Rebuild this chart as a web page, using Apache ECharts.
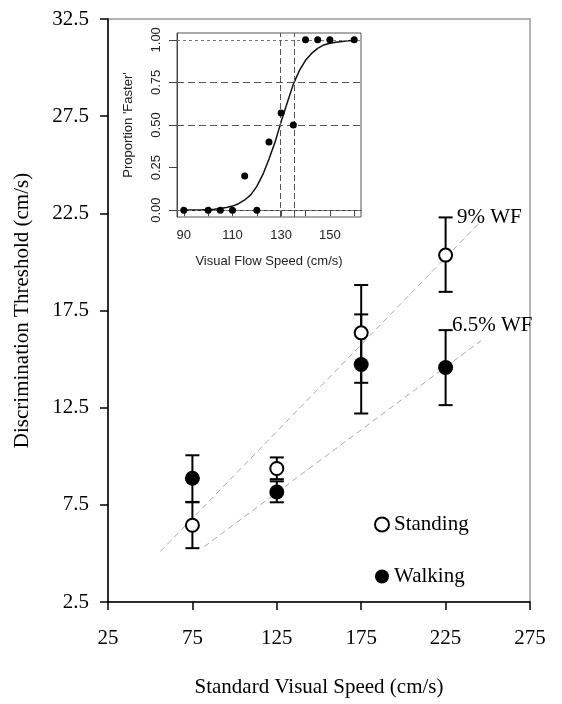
<!DOCTYPE html>
<html>
<head>
<meta charset="utf-8">
<script src="https://cdn.jsdelivr.net/npm/echarts@6/dist/echarts.min.js"></script>
<style>
  html, body { margin: 0; padding: 0; background: #fff; }
  #chart { width: 562px; height: 704px; }
</style>
</head>
<body>
<div id="chart"></div>
<script>
// main plot: thresholds per standard speed
var speeds = [75, 125, 175, 225]
var standingMean = [6.45, 9.37, 16.35, 20.35]
var standingLow = [5.27, 8.82, 13.78, 18.46]
var standingHigh = [7.63, 9.94, 18.81, 22.29]
var walkingMean = [8.87, 8.16, 14.72, 14.57]
var walkingLow = [7.65, 7.63, 12.2, 12.63]
var walkingHigh = [10.05, 8.71, 17.3, 16.49]
// weber fraction guide lines (end points)
var wf9Line = [[56, 5.1], [246, 22.1]]
var wf65Line = [[82, 5.35], [246, 15.95]]

// inset: psychometric function
var flowSpeeds = [90, 100, 105, 110, 115, 120, 125, 130, 135, 140, 145, 150, 160]
var propFaster = [0, 0, 0, 0, 0.2, 0, 0.4, 0.57, 0.5, 1, 1, 1, 1]
// fitted curve
var fitSpeeds = [90, 92.5, 95, 97.5, 100, 102.5, 105, 107.5, 110, 112.5, 115, 117.5, 120, 122.5, 125, 127.5,
  130, 132.5, 135, 137.5, 140, 142.5, 145, 147.5, 150, 152.5, 155, 157.5, 160]
var fitProp = [0.001, 0.001, 0.0015, 0.0025, 0.004, 0.006, 0.01, 0.016, 0.024, 0.038, 0.06, 0.09, 0.14, 0.21, 0.3, 0.4,
  0.52, 0.63, 0.74, 0.82, 0.88, 0.92, 0.95, 0.97, 0.98, 0.986, 0.99, 0.994, 0.996]
var insetGuideY = [0.5, 0.75]
var insetEdgeY = [0, 1]
var insetGuideX = [129.6, 135.4]
var insetXTicks = [90, 100, 110, 120, 130, 140, 150, 160]
var insetXLabels = [90, 110, 130, 150]
var insetYTicks = [0, 0.25, 0.5, 0.75, 1]

var serif = 'Liberation Serif'
var sans = 'Liberation Sans'

function errorBars (name, low, high) {
  return {
    type: 'custom',
    name: name,
    xAxisIndex: 0,
    yAxisIndex: 0,
    z: 2,
    silent: true,
    data: speeds.map(function (s, i) { return [s, low[i], high[i]] }),
    renderItem: function (params, api) {
      var top = api.coord([api.value(0), api.value(2)])
      var bot = api.coord([api.value(0), api.value(1)])
      var w = 7
      var style = { stroke: '#000', lineWidth: 2 }
      return {
        type: 'group',
        children: [
          { type: 'line', shape: { x1: top[0], y1: top[1], x2: bot[0], y2: bot[1] }, style: style },
          { type: 'line', shape: { x1: top[0] - w, y1: top[1], x2: top[0] + w, y2: top[1] }, style: style },
          { type: 'line', shape: { x1: bot[0] - w, y1: bot[1], x2: bot[0] + w, y2: bot[1] }, style: style }
        ]
      }
    }
  }
}

function wfLine (pts, text, offset) {
  return {
    type: 'line',
    xAxisIndex: 0,
    yAxisIndex: 0,
    data: pts,
    symbol: 'none',
    silent: true,
    z: 1,
    lineStyle: { color: '#aaa', width: 1, type: [6, 4] },
    endLabel: {
      show: true,
      formatter: text,
      distance: 0,
      offset: offset,
      fontFamily: serif,
      fontSize: 21,
      color: '#000'
    }
  }
}

var myChart = echarts.init(document.getElementById('chart'))
var option = {
  animation: false,
  backgroundColor: '#fff',
  legend: {
    data: ['Standing', 'Walking'],
    orient: 'vertical',
    left: 374,
    top: 514,
    padding: 0,
    itemWidth: 14,
    itemHeight: 14,
    itemGap: 31,
    textStyle: { fontFamily: serif, fontSize: 21, color: '#000' }
  },
  grid: [
    { left: 108, top: 19, right: 32, bottom: 102, show: true, borderColor: '#9a9a9a', borderWidth: 1.5, backgroundColor: 'transparent' },
    { left: 177, top: 33, right: 201, bottom: 487, show: true, borderColor: '#555', borderWidth: 1, backgroundColor: '#fff' }
  ],
  xAxis: [
    {
      type: 'value',
      gridIndex: 0,
      min: 25,
      max: 275,
      interval: 50,
      axisLine: { lineStyle: { color: '#000', width: 1.5 } },
      axisTick: { length: 8, lineStyle: { color: '#000', width: 1.5 } },
      axisLabel: { fontFamily: serif, fontSize: 21, color: '#000', margin: 26 },
      splitLine: { show: false },
      name: 'Standard Visual Speed (cm/s)',
      nameLocation: 'middle',
      nameGap: 75,
      nameTextStyle: { fontFamily: serif, fontSize: 21, color: '#000' }
    },
    {
      type: 'value',
      gridIndex: 1,
      min: 87.2,
      max: 162.8,
      axisLine: { lineStyle: { color: '#444', width: 1 } },
      axisTick: { length: 6, customValues: insetXTicks, lineStyle: { color: '#444' } },
      axisLabel: { customValues: insetXLabels, fontFamily: sans, fontSize: 13, color: '#222', margin: 12 },
      splitLine: { show: false },
      name: 'Visual Flow Speed (cm/s)',
      nameLocation: 'middle',
      nameGap: 38,
      nameTextStyle: { fontFamily: sans, fontSize: 13, color: '#222' }
    }
  ],
  yAxis: [
    {
      type: 'value',
      gridIndex: 0,
      min: 2.5,
      max: 32.5,
      interval: 5,
      axisLine: { lineStyle: { color: '#000', width: 1.5 } },
      axisTick: { length: 8, lineStyle: { color: '#000', width: 1.5 } },
      axisLabel: { fontFamily: serif, fontSize: 21, color: '#000', margin: 19, formatter: function (v) { return v.toFixed(1) } },
      splitLine: { show: false },
      name: 'Discrimination Threshold (cm/s)',
      nameLocation: 'middle',
      nameGap: 75,
      nameTextStyle: { fontFamily: serif, fontSize: 21, color: '#000' }
    },
    {
      type: 'value',
      gridIndex: 1,
      min: -0.04,
      max: 1.04,
      axisLine: { lineStyle: { color: '#444', width: 1 } },
      axisTick: { length: 8, customValues: insetYTicks, lineStyle: { color: '#444' } },
      axisLabel: { customValues: insetYTicks, rotate: 90, fontFamily: sans, fontSize: 13, color: '#222', margin: 14, formatter: function (v) { return v.toFixed(2) } },
      splitLine: { show: false },
      name: "Proportion 'Faster'",
      nameLocation: 'middle',
      nameGap: 42,
      nameTextStyle: { fontFamily: sans, fontSize: 13, color: '#222' }
    }
  ],
  series: [
    wfLine(wf9Line, '9% WF', [-24, -4]),
    wfLine(wf65Line, '6.5% WF', [-29, -15]),
    errorBars('standingErr', standingLow, standingHigh),
    errorBars('walkingErr', walkingLow, walkingHigh),
    {
      name: 'Standing',
      type: 'scatter',
      xAxisIndex: 0,
      yAxisIndex: 0,
      z: 3,
      symbol: 'circle',
      symbolSize: 13,
      itemStyle: { color: '#fff', borderColor: '#000', borderWidth: 2, opacity: 1 },
      data: speeds.map(function (s, i) { return [s, standingMean[i]] })
    },
    {
      name: 'Walking',
      type: 'scatter',
      xAxisIndex: 0,
      yAxisIndex: 0,
      z: 3,
      symbol: 'circle',
      symbolSize: 15,
      itemStyle: { color: '#000', opacity: 1 },
      data: speeds.map(function (s, i) { return [s, walkingMean[i]] })
    },
    {
      name: 'fit',
      type: 'line',
      xAxisIndex: 1,
      yAxisIndex: 1,
      smooth: false,
      symbol: 'none',
      silent: true,
      z: 4,
      lineStyle: { color: '#111', width: 1.5 },
      data: fitSpeeds.map(function (s, i) { return [s, fitProp[i]] }),
      markLine: {
        silent: true,
        symbol: 'none',
        label: { show: false },
        animation: false,
        data: insetGuideY.map(function (v) { return { yAxis: v, lineStyle: { color: '#555', width: 1, type: [7, 4] } } })
          .concat(insetEdgeY.map(function (v) { return { yAxis: v, lineStyle: { color: '#777', width: 1, type: [3, 3] } } }))
          .concat(insetGuideX.map(function (v) { return { xAxis: v, lineStyle: { color: '#555', width: 1, type: [6, 3] } } }))
      }
    },
    {
      name: 'proportion',
      type: 'scatter',
      xAxisIndex: 1,
      yAxisIndex: 1,
      z: 5,
      symbolSize: 7,
      itemStyle: { color: '#000', opacity: 1 },
      data: flowSpeeds.map(function (s, i) { return [s, propFaster[i]] })
    }
  ]
}
myChart.setOption(option)
</script>
</body>
</html>
